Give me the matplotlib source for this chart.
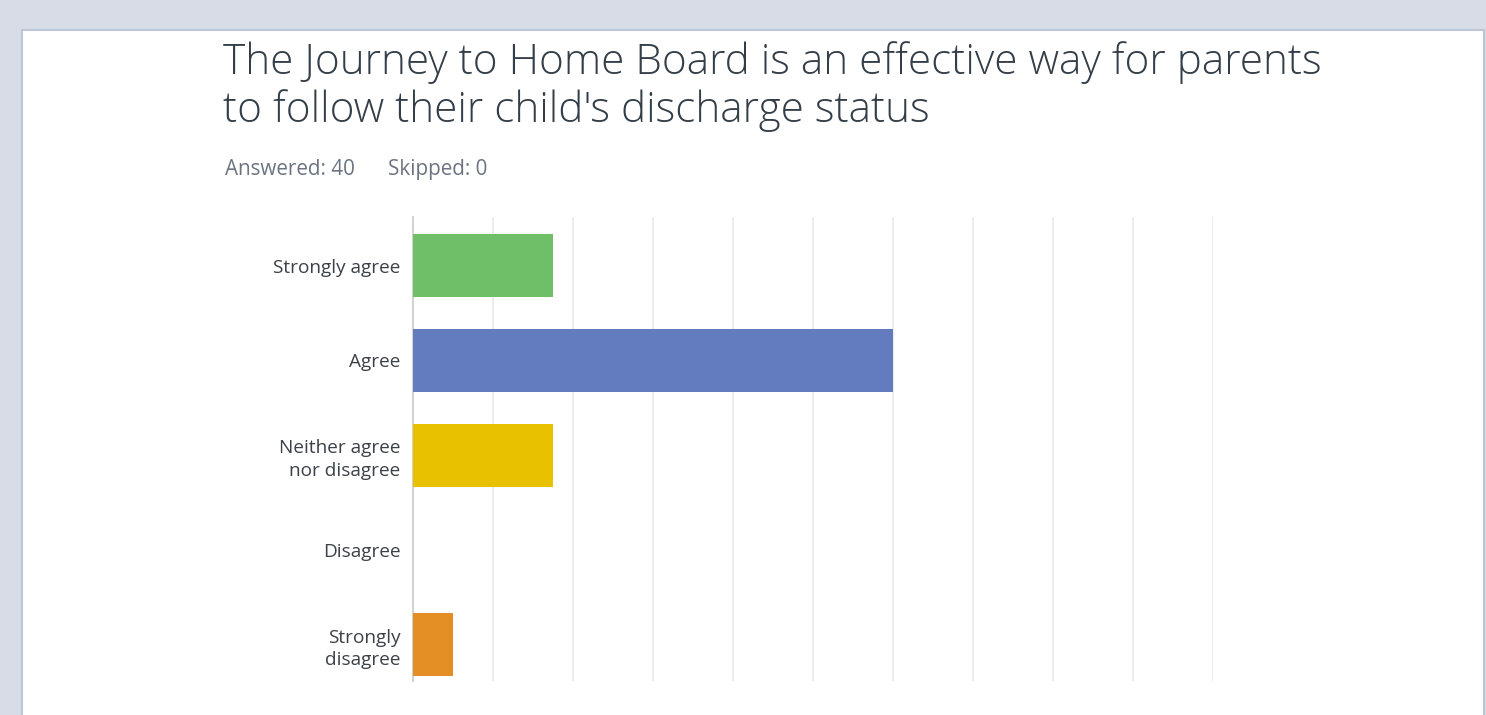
import matplotlib
matplotlib.use("Agg")
import matplotlib.pyplot as plt
from matplotlib.patches import Rectangle

title = "The Journey to Home Board is an effective way for parents\nto follow their child's discharge status"
summary_answered = "Answered: 40"
summary_skipped = "Skipped: 0"
categories = ["Strongly agree", "Agree", "Neither agree\nnor disagree", "Disagree", "Strongly\ndisagree"]
shares = [0.175, 0.60, 0.175, 0.0, 0.05]
bar_colors = ["#6fbe68", "#637bbf", "#e8c200", "#000000", "#e38f25"]
x_ticks = [0.0, 0.1, 0.2, 0.3, 0.4, 0.5, 0.6, 0.7, 0.8, 0.9, 1.0]

W, H = 1486, 715
fig = plt.figure(figsize=(W / 100, H / 100), dpi=100)
fig.patch.set_facecolor("#d7dce6")

# white panel
panel = Rectangle((22 / W, -0.01), (1484 - 22) / W, 1.01 - 30 / H, transform=fig.transFigure,
                  facecolor="white", edgecolor="#bcc6d4", linewidth=1.5, zorder=-5)
fig.patches.append(panel)

ax = fig.add_axes([413 / W, 1 - 681 / H, 800 / W, 464 / H])
ax.set_zorder(2)
ax.set_facecolor("none")
ypos = list(range(len(categories)))
ax.barh(ypos, shares, height=0.665, color=bar_colors, zorder=3)
ax.set_xlim(0, 1.0)
ax.set_ylim(4.385, -0.515)
ax.set_xticks(x_ticks)
ax.set_xticklabels([])
ax.tick_params(axis="x", length=0)
ax.grid(axis="x", color="#ebebeb", linewidth=1.3, zorder=0)
ax.set_yticks(ypos)
ax.set_yticklabels(categories, fontsize=13.7, color="#3b4148", family="Open Sans",
                   linespacing=1.32, ha="right")
ax.tick_params(axis="y", length=0, pad=9)
for s in ["top", "right", "bottom"]:
    ax.spines[s].set_visible(False)
ax.spines["left"].set_color("#cfcfcf")
ax.spines["left"].set_linewidth(1.3)

fig.text(223 / W, 1 - 122 / H, title, fontsize=30.4, color="#333e48", family="Open Sans",
         fontweight="light", ha="left", va="baseline", linespacing=1.15, zorder=3)
fig.text(225 / W, 1 - 175 / H, summary_answered, fontsize=14.9, color="#6b7480",
         family="Open Sans", ha="left", va="baseline", zorder=3)
fig.text(388 / W, 1 - 175 / H, summary_skipped, fontsize=14.9, color="#6b7480",
         family="Open Sans", ha="left", va="baseline", zorder=3)

fig.savefig("out.png", dpi=100, facecolor=fig.get_facecolor())
